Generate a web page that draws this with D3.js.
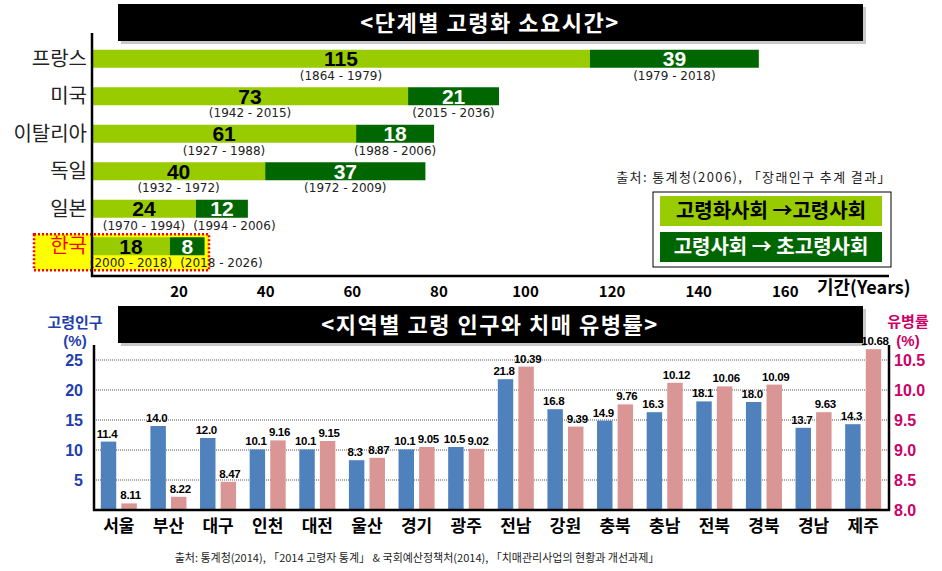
<!DOCTYPE html>
<html>
<head>
<meta charset="utf-8">
<script src="https://cdn.jsdelivr.net/npm/d3@7"></script>
<style>
  body { margin: 0; background: #fff; }
  svg { font-family: "Liberation Sans", "Noto Sans CJK KR", sans-serif; }
</style>
</head>
<body>
<svg id="chart" width="942" height="571"></svg>
<script>
// top chart: years needed for each ageing stage
const countries = ['프랑스', '미국', '이탈리아', '독일', '일본', '한국'];
const stage1 = [115, 73, 61, 40, 24, 18];
const stage2 = [39, 21, 18, 37, 12, 8];
const stage1Years = ['(1864 - 1979)', '(1942 - 2015)', '(1927 - 1988)', '(1932 - 1972)', '(1970 - 1994)', '(2000 - 2018)'];
const stage2Years = ['(1979 - 2018)', '(2015 - 2036)', '(1988 - 2006)', '(1972 - 2009)', '(1994 - 2006)', '(2018 - 2026)'];
const yearTicks = [20, 40, 60, 80, 100, 120, 140, 160];

// bottom chart: elderly population and dementia prevalence by region
const regions = ['서울', '부산', '대구', '인천', '대전', '울산', '경기', '광주', '전남', '강원', '충북', '충남', '전북', '경북', '경남', '제주'];
const elderly = [11.4, 14.0, 12.0, 10.1, 10.1, 8.3, 10.1, 10.5, 21.8, 16.8, 14.9, 16.3, 18.1, 18.0, 13.7, 14.3];
const dementia = [8.11, 8.22, 8.47, 9.16, 9.15, 8.87, 9.05, 9.02, 10.39, 9.39, 9.76, 10.12, 10.06, 10.09, 9.63, 10.68];
const leftTicks = [5, 10, 15, 20, 25];
const rightTicks = [8.0, 8.5, 9.0, 9.5, 10.0, 10.5];

const lightGreen = '#99cc00', darkGreen = '#006600';
const blue = '#4f81bd', pink = '#d99694';
const kr = '"Noto Sans CJK KR", sans-serif';

const svg = d3.select('#chart');

function titleBox(y, text) {
    svg.append('rect').attr('x', 121).attr('y', y + 3).attr('width', 745).attr('height', 37).attr('fill', '#c8c8c8');
    svg.append('rect').attr('x', 118).attr('y', y).attr('width', 745).attr('height', 37).attr('fill', '#000');
    svg.append('text').attr('x', 490).attr('y', y + 19).attr('dy', '0.35em')
        .attr('text-anchor', 'middle').attr('fill', '#fff').attr('letter-spacing', 1.5)
        .attr('font-size', 22).attr('font-weight', 'bold').attr('font-family', kr)
        .text(text);
}

// ---------- top chart ----------
const x = d3.scaleLinear().domain([0, 180]).range([92, 92 + 180 * 4.33]);
const y = d3.scaleBand().domain(countries).range([40, 265]).paddingInner(0.52).paddingOuter(0.26);

// korea highlight
const kY = y('한국');
svg.append('rect').attr('x', 34).attr('y', kY - 3).attr('width', 175).attr('height', 36)
    .attr('fill', '#ffff00').attr('stroke', '#ff0000').attr('stroke-width', 2.5).attr('stroke-dasharray', '2,2');

titleBox(4, '<단계별 고령화 소요시간>');

const rows = countries.map((c, i) => ({ c, a: stage1[i], b: stage2[i], ya: stage1Years[i], yb: stage2Years[i] }));

const row = svg.append('g').selectAll('g').data(rows).join('g');

row.append('rect').attr('x', x(0)).attr('y', d => y(d.c))
    .attr('width', d => x(d.a) - x(0)).attr('height', y.bandwidth()).attr('fill', lightGreen);
row.append('rect').attr('x', d => x(d.a)).attr('y', d => y(d.c))
    .attr('width', d => x(d.a + d.b) - x(d.a)).attr('height', y.bandwidth()).attr('fill', darkGreen);

row.append('text').attr('x', d => (x(0) + x(d.a)) / 2).attr('y', d => y(d.c) + y.bandwidth() / 2)
    .attr('dy', '0.36em').attr('text-anchor', 'middle').attr('font-size', 21).attr('font-weight', 'bold')
    .attr('fill', '#000').text(d => d.a);
row.append('text').attr('x', d => (x(d.a) + x(d.a + d.b)) / 2).attr('y', d => y(d.c) + y.bandwidth() / 2)
    .attr('dy', '0.36em').attr('text-anchor', 'middle').attr('font-size', 21).attr('font-weight', 'bold')
    .attr('fill', '#fff').text(d => d.b);

// year spans under the bars; push the second one right if it would hit the first
row.each(function (d) {
    const g = d3.select(this);
    const t1 = g.append('text').attr('x', (x(0) + x(d.a)) / 2).attr('y', y(d.c) + y.bandwidth() + 12)
        .attr('text-anchor', 'middle').attr('font-size', 12).attr('fill', '#222')
        .attr('font-family', '"DejaVu Sans", sans-serif').text(d.ya);
    const t2 = g.append('text').attr('y', y(d.c) + y.bandwidth() + 12)
        .attr('text-anchor', 'middle').attr('font-size', 12).attr('fill', '#222')
        .attr('font-family', '"DejaVu Sans", sans-serif').text(d.yb);
    const w1 = t1.node().getComputedTextLength(), w2 = t2.node().getComputedTextLength();
    const right1 = (x(0) + x(d.a)) / 2 + w1 / 2;
    t2.attr('x', Math.max((x(d.a) + x(d.a + d.b)) / 2, right1 + 8 + w2 / 2));
});

// country labels
svg.append('g').selectAll('text').data(countries).join('text')
    .attr('x', 87).attr('y', d => y(d) + y.bandwidth() / 2).attr('dy', '0.35em')
    .attr('text-anchor', 'end').attr('font-size', 20).attr('font-family', kr)
    .attr('fill', d => d === '한국' ? '#ff0000' : '#222').text(d => d);

// axes lines
svg.append('line').attr('x1', 92).attr('x2', 92).attr('y1', 33).attr('y2', 277).attr('stroke', '#000').attr('stroke-width', 2.5);
svg.append('line').attr('x1', 91).attr('x2', 889).attr('y1', 276).attr('y2', 276).attr('stroke', '#000').attr('stroke-width', 2.5);

const xAxis = d3.axisBottom(x).tickValues(yearTicks).tickSize(0).tickPadding(10);
svg.append('g').attr('transform', 'translate(0,276)').call(xAxis)
    .call(g => g.select('.domain').remove())
    .selectAll('text').attr('font-size', 15).attr('font-weight', 'bold').attr('fill', '#000')
    .attr('font-family', kr);

svg.append('text').attr('x', 817).attr('y', 288).attr('dy', '0.35em').attr('font-size', 18)
    .attr('font-weight', 'bold').attr('font-family', kr).text('기간(Years)');

svg.append('text').attr('x', 892).attr('y', 177).attr('dy', '0.35em').attr('text-anchor', 'end')
    .attr('font-size', 13).attr('letter-spacing', 1.4).attr('fill', '#222').attr('font-family', kr)
    .text('출처: 통계청(2006), 「장래인구 추계 결과」');

// legend
svg.append('rect').attr('x', 653).attr('y', 192).attr('width', 238).attr('height', 75)
    .attr('fill', '#fff').attr('stroke', '#000').attr('stroke-width', 1);
const legend = [
    { label: '고령화사회 →고령사회', fill: lightGreen, color: '#000', y: 196 },
    { label: '고령사회 → 초고령사회', fill: darkGreen, color: '#fff', y: 232 }
];
const lg = svg.append('g').selectAll('g').data(legend).join('g');
lg.append('rect').attr('x', 660).attr('y', d => d.y).attr('width', 222).attr('height', 30).attr('fill', d => d.fill);
lg.append('text').attr('x', 771).attr('y', d => d.y + 15).attr('dy', '0.35em').attr('text-anchor', 'middle')
    .attr('font-size', 20).attr('font-weight', 'bold').attr('fill', d => d.color)
    .attr('font-family', kr).text(d => d.label);

// ---------- bottom chart ----------
titleBox(306, '<지역별 고령 인구와 치매 유병률>');

const x0 = d3.scaleBand().domain(regions).range([94, 888]).paddingInner(0.274).paddingOuter(0.137);
const x1 = d3.scaleBand().domain(['elderly', 'dementia']).range([0, x0.bandwidth()]).paddingInner(0.25);
const yL = d3.scaleLinear().domain([0, 27.5]).range([510, 345]);
const yR = d3.scaleLinear().domain([8.0, 10.75]).range([510, 345]);

// gridlines
svg.append('g').selectAll('line').data(leftTicks).join('line')
    .attr('x1', 94).attr('x2', 888).attr('y1', d => yL(d)).attr('y2', d => yL(d))
    .attr('stroke', '#555').attr('stroke-width', 1).attr('stroke-dasharray', '1,1');

const groups = regions.map((r, i) => ({ r, e: elderly[i], d: dementia[i] }));
const grp = svg.append('g').selectAll('g').data(groups).join('g')
    .attr('transform', d => `translate(${x0(d.r)},0)`);

grp.append('rect').attr('x', x1('elderly')).attr('width', x1.bandwidth())
    .attr('y', d => yL(d.e)).attr('height', d => yL(0) - yL(d.e)).attr('fill', blue);
grp.append('rect').attr('x', x1('dementia')).attr('width', x1.bandwidth())
    .attr('y', d => yR(d.d)).attr('height', d => yR(8.0) - yR(d.d)).attr('fill', pink);

grp.append('text').attr('x', x1('elderly') + x1.bandwidth() / 2 - 1.5).attr('y', d => yL(d.e) - 4)
    .attr('text-anchor', 'middle').attr('font-size', 11.5).attr('font-weight', 'bold')
    .attr('letter-spacing', -0.3).text(d => d.e.toFixed(1));
grp.append('text').attr('x', x1('dementia') + x1.bandwidth() / 2 + 1.5).attr('y', d => yR(d.d) - 4)
    .attr('text-anchor', 'middle').attr('font-size', 11.5).attr('font-weight', 'bold')
    .attr('letter-spacing', -0.3).text(d => d.d.toFixed(2));

// axes
svg.append('line').attr('x1', 94).attr('x2', 94).attr('y1', 345).attr('y2', 511).attr('stroke', '#000').attr('stroke-width', 2.5);
svg.append('line').attr('x1', 889).attr('x2', 889).attr('y1', 345).attr('y2', 511).attr('stroke', '#000').attr('stroke-width', 2.5);
svg.append('line').attr('x1', 93).attr('x2', 890).attr('y1', 510).attr('y2', 510).attr('stroke', '#000').attr('stroke-width', 2.5);

svg.append('g').attr('transform', 'translate(94,0)')
    .call(d3.axisLeft(yL).tickValues(leftTicks).tickSize(0).tickPadding(11))
    .call(g => g.select('.domain').remove())
    .selectAll('text').attr('font-size', 16).attr('font-weight', 'bold').attr('fill', '#1f3fae');

svg.append('g').attr('transform', 'translate(889,0)')
    .call(d3.axisRight(yR).tickValues(rightTicks).tickFormat(d3.format('.1f')).tickSize(0).tickPadding(5))
    .call(g => g.select('.domain').remove())
    .selectAll('text').attr('font-size', 16).attr('font-weight', 'bold').attr('fill', '#cc0066');

svg.append('g').attr('transform', 'translate(0,510)')
    .call(d3.axisBottom(x0).tickSize(0).tickPadding(10))
    .call(g => g.select('.domain').remove())
    .selectAll('text').attr('font-size', 17).attr('font-weight', 'bold').attr('fill', '#000')
    .attr('font-family', kr);

// axis titles
svg.append('text').attr('x', 75).attr('y', 323).attr('dy', '0.35em').attr('text-anchor', 'middle')
    .attr('font-size', 15).attr('font-weight', 'bold').attr('fill', '#1f3fae')
    .attr('font-family', kr).text('고령인구');
svg.append('text').attr('x', 75).attr('y', 341).attr('dy', '0.35em').attr('text-anchor', 'middle')
    .attr('font-size', 15).attr('font-weight', 'bold').attr('fill', '#1f3fae').text('(%)');
svg.append('text').attr('x', 908).attr('y', 322).attr('dy', '0.35em').attr('text-anchor', 'middle')
    .attr('font-size', 15).attr('font-weight', 'bold').attr('fill', '#cc0066')
    .attr('font-family', kr).text('유병률');
svg.append('text').attr('x', 908).attr('y', 341).attr('dy', '0.35em').attr('text-anchor', 'middle')
    .attr('font-size', 15).attr('font-weight', 'bold').attr('fill', '#cc0066').text('(%)');

svg.append('text').attr('x', 417).attr('y', 558).attr('dy', '0.35em').attr('text-anchor', 'middle')
    .attr('font-size', 11).attr('fill', '#222').attr('font-family', kr)
    .text('출처: 통계청(2014), 「2014 고령자 통계」 & 국회예산정책처(2014), 「치매관리사업의 현황과 개선과제」');
</script>
</body>
</html>
